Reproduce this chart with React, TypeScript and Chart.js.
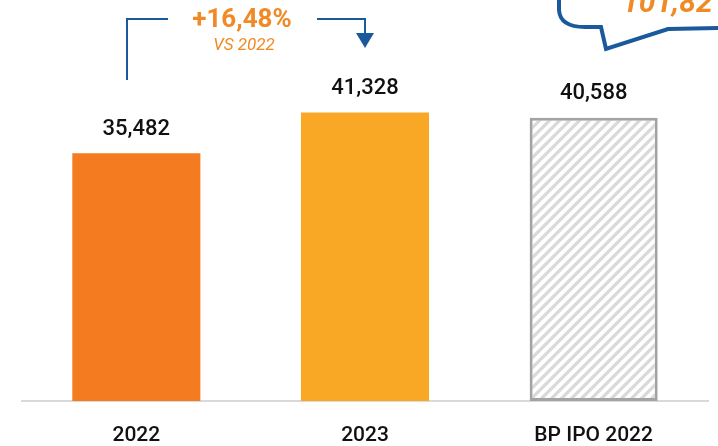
import React, { useEffect, useRef } from "react";
import { Chart, registerables } from "chart.js";

Chart.register(...registerables);

const categories = ["2022", "2023", "BP IPO 2022"];
const values = [35482, 41328, 40588];
const valueLabels = ["35,482", "41,328", "40,588"];
const growthLabel = "+16,48%";
const growthSub = "VS 2022";
const calloutText = "101,82";

const ORANGE = "#F47B20";
const AMBER = "#F9A826";
const TEXT_ORANGE = "#F08A26";
const BLUE = "#1A5A9C";

function makeHatch(): CanvasPattern | string {
  const s = 10;
  const c = document.createElement("canvas");
  c.width = s;
  c.height = s;
  const g = c.getContext("2d");
  if (!g) return "#fff";
  g.fillStyle = "#ffffff";
  g.fillRect(0, 0, s, s);
  g.strokeStyle = "#D9D9D9";
  g.lineWidth = 3.2;
  g.beginPath();
  g.moveTo(-2, s + 2);
  g.lineTo(s + 2, -2);
  g.moveTo(-2, 2);
  g.lineTo(2, -2);
  g.moveTo(s - 2, s + 2);
  g.lineTo(s + 2, s - 2);
  g.stroke();
  const p = g.createPattern(c, "repeat");
  return p || "#fff";
}

const overlayPlugin = {
  id: "overlay",
  afterDatasetsDraw(chart: any) {
    const ctx = chart.ctx;
    const meta = chart.getDatasetMeta(0);
    ctx.save();
    // value labels
    ctx.fillStyle = "#111111";
    ctx.font = "500 22px Roboto";
    ctx.textAlign = "center";
    ctx.textBaseline = "middle";
    meta.data.forEach((el: any, i: number) => {
      ctx.fillText(valueLabels[i], el.x, el.y - 24);
    });

    // growth annotation
    ctx.fillStyle = TEXT_ORANGE;
    ctx.font = "bold 26px Roboto";
    ctx.fillText(growthLabel, 242, 20);
    ctx.font = "italic 17px Roboto";
    ctx.fillText(growthSub, 244, 46);

    // bracket
    ctx.strokeStyle = BLUE;
    ctx.lineWidth = 2;
    ctx.lineJoin = "miter";
    ctx.beginPath();
    ctx.moveTo(127, 80);
    ctx.lineTo(127, 19);
    ctx.lineTo(168, 19);
    ctx.moveTo(317, 19);
    ctx.lineTo(365, 19);
    ctx.lineTo(365, 36);
    ctx.stroke();
    ctx.fillStyle = BLUE;
    ctx.beginPath();
    ctx.moveTo(356, 33);
    ctx.lineTo(374, 33);
    ctx.lineTo(365, 48);
    ctx.closePath();
    ctx.fill();

    // callout bubble (cropped)
    ctx.lineWidth = 4;
    ctx.beginPath();
    ctx.moveTo(559, -5);
    ctx.lineTo(559, 10);
    ctx.quadraticCurveTo(560, 27, 585, 27);
    ctx.lineTo(601, 27);
    ctx.lineTo(606, 49);
    ctx.lineTo(668, 29);
    ctx.lineTo(725, 28);
    ctx.stroke();
    ctx.fillStyle = TEXT_ORANGE;
    ctx.font = "italic bold 30px Roboto";
    ctx.textAlign = "left";
    ctx.textBaseline = "alphabetic";
    ctx.fillText(calloutText, 622, 12);
    ctx.restore();
  },
};

export default function App() {
  const ref = useRef<HTMLCanvasElement>(null);
  useEffect(() => {
    if (!ref.current) return;
    const hatch = makeHatch();
    const chart = new Chart(ref.current, {
      type: "bar",
      data: {
        labels: categories,
        datasets: [
          {
            data: values,
            backgroundColor: [ORANGE, AMBER, hatch as any],
            borderColor: ["rgba(0,0,0,0)", "rgba(0,0,0,0)", "#A3A3A3"],
            borderWidth: [0, 0, 3],
            borderSkipped: false,
            barPercentage: 0.56,
            categoryPercentage: 1,
          },
        ],
      },
      options: {
        responsive: false,
        animation: false,
        events: [],
        layout: { padding: { top: 52, left: 22, right: 10, bottom: 0 } },
        plugins: {
          legend: { display: false },
          tooltip: { enabled: false },
          title: { display: false },
        },
        scales: {
          x: {
            grid: { display: false, drawTicks: false },
            border: { display: true, color: "#D9D9D9", width: 2 },
            ticks: {
              color: "#111111",
              font: { family: "Roboto", size: 21, weight: "500" },
              padding: 22,
              maxRotation: 0,
            },
            afterFit: (scale: any) => {
              scale.height = 45;
            },
          },
          y: {
            display: false,
            min: 0,
            max: 50000,
          },
        },
      },
      plugins: [overlayPlugin],
    });
    return () => chart.destroy();
  }, []);
  return (
    <div style={{ position: "fixed", left: 0, top: 0, width: 718, height: 446, background: "#fff" }}>
      <canvas ref={ref} width={718} height={446} style={{ width: 718, height: 446, display: "block" }} />
    </div>
  );
}
